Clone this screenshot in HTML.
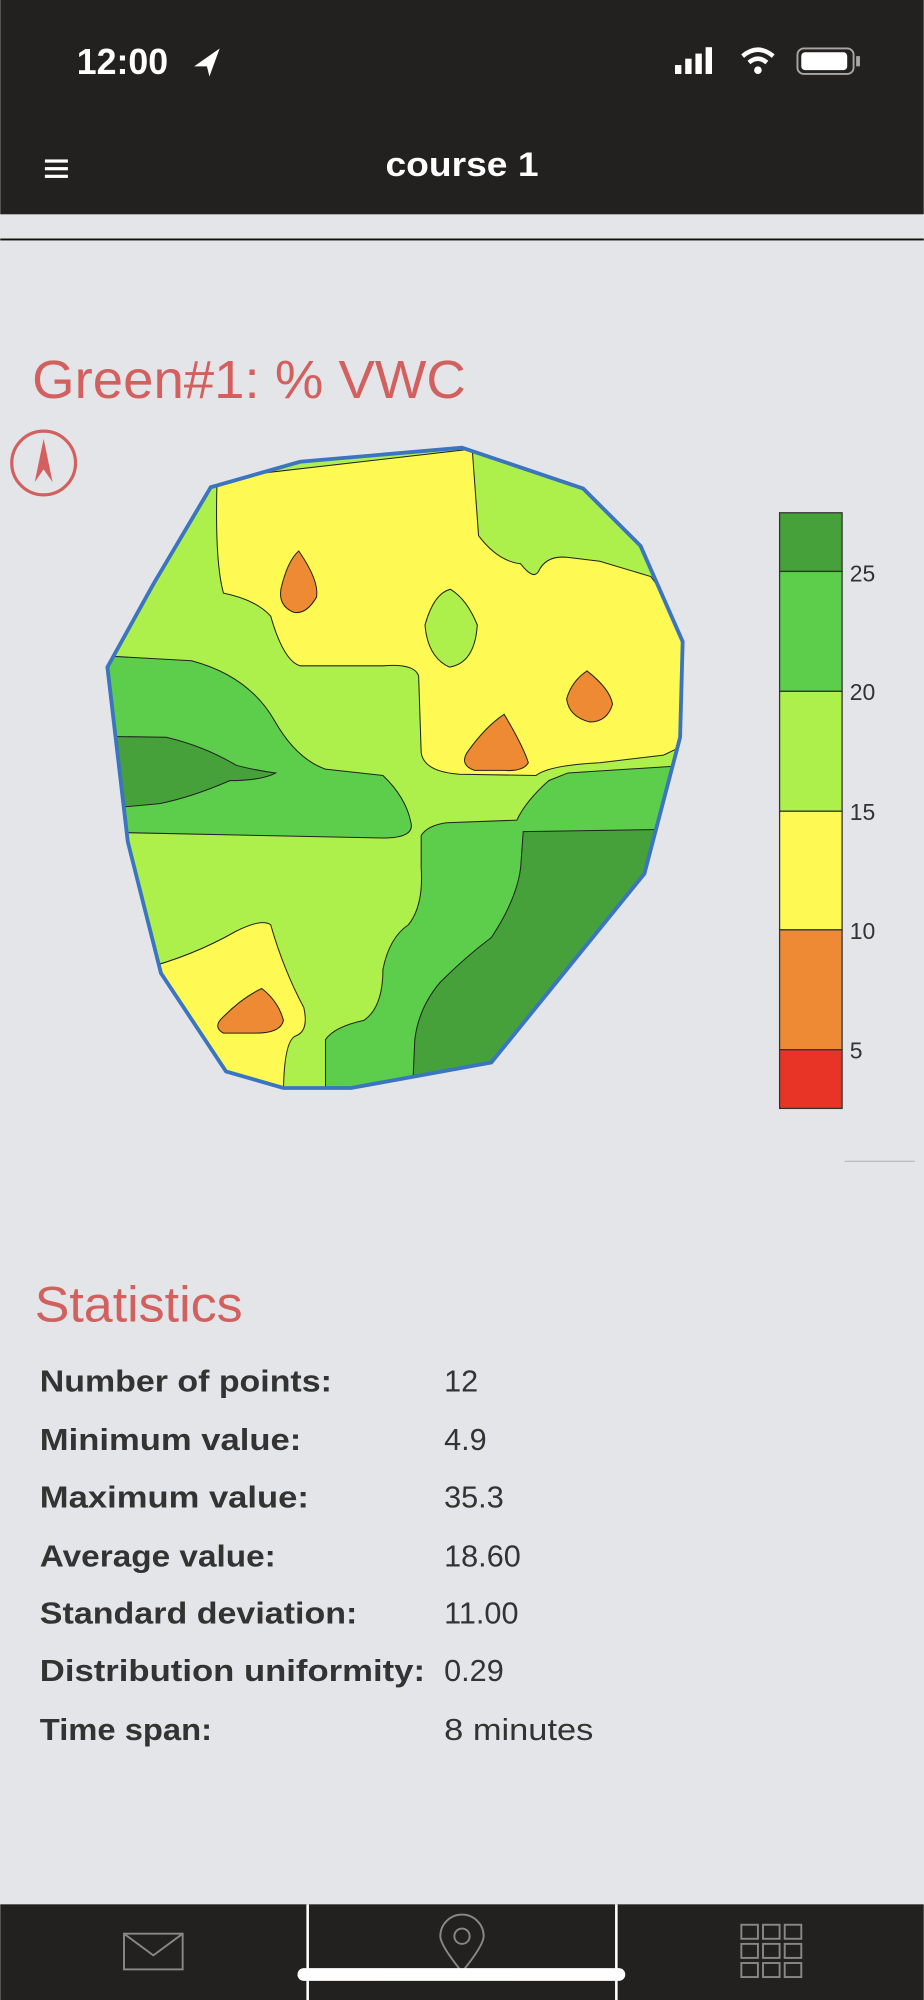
<!DOCTYPE html>
<html><head><meta charset="utf-8"><style>
html,body{margin:0;padding:0;background:#e4e5e9;}
svg{display:block;}
text{font-family:"Liberation Sans","DejaVu Sans",sans-serif;}
</style></head><body>
<svg width="924" height="2000" viewBox="0 0 724 1568" xmlns="http://www.w3.org/2000/svg">
<rect width="724" height="1568" fill="#e4e5e9"/>
<rect width="724" height="168" fill="#222120"/>
<text x="60" y="58" font-size="28" fill="#fff" font-weight="600">12:00</text>
<path d="M152 52 L172 38 L164 60 L162 52 Z" fill="#fff"/>
<rect x="529" y="51" width="5" height="7" fill="#fff"/><rect x="537" y="46" width="5" height="12" fill="#fff"/><rect x="545" y="42" width="5" height="16" fill="#fff"/><rect x="553" y="37" width="5" height="21" fill="#fff"/>
<path d="M582 44 Q594 34 606 44" stroke="#fff" stroke-width="3.5" fill="none"/><path d="M587 49 Q594 43 601 49" stroke="#fff" stroke-width="3.5" fill="none"/><circle cx="594" cy="55" r="3" fill="#fff"/>
<rect x="625" y="38" width="44" height="20" rx="5" fill="none" stroke="#fff" stroke-width="1.5" opacity="0.6"/><rect x="628" y="41" width="36" height="14" rx="3" fill="#fff"/><rect x="671" y="44" width="3" height="8" fill="#fff" opacity="0.6"/>
<rect x="35" y="125" width="18" height="2.5" fill="#fff"/><rect x="35" y="131" width="18" height="2.5" fill="#fff"/><rect x="35" y="137" width="18" height="2.5" fill="#fff"/>
<text x="302" y="138" font-size="27" fill="#fff" font-weight="bold" textLength="120" lengthAdjust="spacingAndGlyphs">course 1</text>
<rect x="0" y="187" width="724" height="1.5" fill="#111"/>
<text x="25" y="312" font-size="42" fill="#d2605e" textLength="340" lengthAdjust="spacingAndGlyphs">Green#1: % VWC</text>
<circle cx="34" cy="363" r="25" fill="none" stroke="#d2605e" stroke-width="2.5"/>
<path d="M34 344 L41 378 L34 368 L27 378 Z" fill="#d2605e"/>
<defs><clipPath id="c"><path id="poly" d="M165 382 L235 362 L362 351 L457 383 L502 428 L535 503 L533 578 L505 685 L385 833 L275 853 L222 853 L177 840 L126 763 L100 660 L84 523 L120 458 Z"/></clipPath></defs>
<g clip-path="url(#c)" stroke="#222" stroke-width="0.8">
<rect x="60" y="330" width="500" height="540" fill="#adf04b" stroke="none"/>
<path d="M170 375 L370 352 L375 420 Q390 440 408 442 Q418 455 422 448 Q428 435 445 437 L470 440 L510 452 L545 500 L545 580 L520 592 L470 598 Q430 600 420 608 L360 607 Q332 605 330 590 L328 530 Q325 520 300 522 L235 522 Q222 518 212 483 Q200 470 175 465 Q168 440 170 375 Z" fill="#fff954"/>
<path d="M353 462 Q366 470 374 490 Q372 520 352 523 Q335 515 333 490 Q340 465 353 462 Z" fill="#adf04b"/>
<path d="M234 432 Q250 455 248 468 Q240 482 230 480 Q218 475 220 462 Q225 440 234 432 Z" fill="#ef8a34"/>
<path d="M460 526 Q478 540 480 552 Q476 566 462 566 Q446 562 444 548 Q448 534 460 526 Z" fill="#ef8a34"/>
<path d="M395 560 Q410 585 414 598 Q410 605 395 604 L372 604 Q360 600 366 590 Q380 570 395 560 Z" fill="#ef8a34"/>
<path d="M60 513 L150 518 Q195 530 215 565 Q232 595 255 603 L300 608 Q318 625 322 645 Q325 657 300 657 L60 652 Z" fill="#5cce4b"/>
<path d="M60 577 L130 578 Q160 585 185 600 Q200 604 216 606 Q205 612 180 612 Q150 625 125 630 L60 636 Z" fill="#47a13a"/>
<path d="M255 860 L255 815 Q262 805 285 800 Q300 790 300 760 Q305 735 320 725 Q332 710 330 680 L330 655 Q335 647 350 645 L405 643 Q412 628 430 612 L445 606 L540 600 L540 720 L390 860 Z" fill="#5cce4b"/>
<path d="M323 860 L325 815 Q328 790 345 770 Q365 750 385 735 Q405 705 408 680 L410 652 L540 650 L540 720 L390 860 Z" fill="#47a13a"/>
<path d="M110 760 Q150 750 185 730 Q205 720 212 725 Q222 760 238 790 Q242 808 232 812 Q222 815 222 860 L110 860 Z" fill="#fff954"/>
<path d="M205 775 Q218 785 222 800 Q220 810 200 810 L175 810 Q166 805 175 797 Q190 782 205 775 Z" fill="#ef8a34"/>
</g>
<use href="#poly" fill="none" stroke="#3b74c0" stroke-width="3"/>
<g stroke="#333" stroke-width="1">
<rect x="611" y="402" width="49" height="46" fill="#47a13a"/>
<rect x="611" y="448" width="49" height="94" fill="#5cce4b"/>
<rect x="611" y="542" width="49" height="94" fill="#adf04b"/>
<rect x="611" y="636" width="49" height="93" fill="#fff954"/>
<rect x="611" y="729" width="49" height="94" fill="#ef8a34"/>
<rect x="611" y="823" width="49" height="46" fill="#e73426"/>
</g>
<g font-size="18" fill="#333">
<text x="666" y="456">25</text><text x="666" y="549">20</text><text x="666" y="643">15</text><text x="666" y="736">10</text><text x="666" y="830">5</text>
</g>
<rect x="662" y="910" width="55" height="1" fill="#bbb"/>
<text x="27" y="1036" font-size="39" fill="#d2605e" textLength="163" lengthAdjust="spacingAndGlyphs">Statistics</text>
<g font-size="24" fill="#333">
<text x="31" y="1091" font-weight="bold" textLength="229" lengthAdjust="spacingAndGlyphs">Number of points:</text><text x="348" y="1091">12</text>
<text x="31" y="1137" font-weight="bold" textLength="205" lengthAdjust="spacingAndGlyphs">Minimum value:</text><text x="348" y="1137">4.9</text>
<text x="31" y="1182" font-weight="bold" textLength="211" lengthAdjust="spacingAndGlyphs">Maximum value:</text><text x="348" y="1182">35.3</text>
<text x="31" y="1228" font-weight="bold" textLength="185" lengthAdjust="spacingAndGlyphs">Average value:</text><text x="348" y="1228">18.60</text>
<text x="31" y="1273" font-weight="bold" textLength="249" lengthAdjust="spacingAndGlyphs">Standard deviation:</text><text x="348" y="1273">11.00</text>
<text x="31" y="1318" font-weight="bold" textLength="302" lengthAdjust="spacingAndGlyphs">Distribution uniformity:</text><text x="348" y="1318">0.29</text>
<text x="31" y="1364" font-weight="bold" textLength="135" lengthAdjust="spacingAndGlyphs">Time span:</text><text x="348" y="1364" textLength="117" lengthAdjust="spacingAndGlyphs">8 minutes</text>
</g>
<rect x="0" y="1493" width="724" height="75" fill="#222120"/>
<rect x="240" y="1493" width="2" height="75" fill="#fff"/><rect x="482" y="1493" width="2" height="75" fill="#fff"/>
<g stroke="#888" stroke-width="1.5" fill="none">
<rect x="97" y="1516" width="46" height="28"/><path d="M97 1516 L120 1533 L143 1516"/>
<path d="M362 1546 Q345 1525 345 1518 A17 17 0 0 1 379 1518 Q379 1525 362 1546 Z"/><circle cx="362" cy="1518" r="6"/>
<rect x="581" y="1509" width="13" height="11"/><rect x="598" y="1509" width="13" height="11"/><rect x="615" y="1509" width="13" height="11"/>
<rect x="581" y="1524" width="13" height="11"/><rect x="598" y="1524" width="13" height="11"/><rect x="615" y="1524" width="13" height="11"/>
<rect x="581" y="1539" width="13" height="11"/><rect x="598" y="1539" width="13" height="11"/><rect x="615" y="1539" width="13" height="11"/>
</g>
<rect x="233" y="1543" width="257" height="10" rx="5" fill="#fff"/>
</svg>
</body></html>
